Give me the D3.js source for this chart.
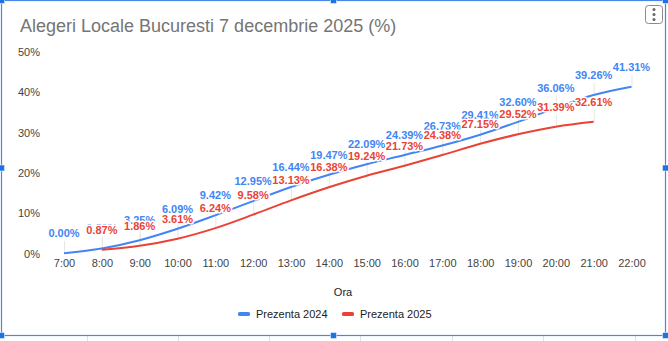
<!DOCTYPE html>
<html><head><meta charset="utf-8">
<script src="https://cdn.jsdelivr.net/npm/d3@7"></script>
<style>html,body{margin:0;padding:0;background:#fff;}svg{display:block;}</style>
</head><body>
<svg id="c" width="668" height="341"></svg>
<script>
const hours = ["7:00","8:00","9:00","10:00","11:00","12:00","13:00","14:00","15:00","16:00","17:00","18:00","19:00","20:00","21:00","22:00"];
const hours2024 = hours;
const values2024 = [0.00,1.20,3.25,6.09,9.42,12.95,16.44,19.47,22.09,24.39,26.73,29.41,32.60,36.06,39.26,41.31];
const hours2025 = ["8:00","9:00","10:00","11:00","12:00","13:00","14:00","15:00","16:00","17:00","18:00","19:00","20:00","21:00"];
const values2025 = [0.87,1.86,3.61,6.24,9.58,13.13,16.38,19.24,21.73,24.38,27.15,29.52,31.39,32.61];
const yTicks = [0,10,20,30,40,50];
const seriesNames = ["Prezenta 2024","Prezenta 2025"];
const colors = ["#4285f4","#ea4335"];
const title = "Alegeri Locale Bucuresti 7 decembrie 2025 (%)";
const xTitle = "Ora";

const svg = d3.select("#c");
const font = "Arial, 'Liberation Sans', sans-serif";

// sheet cell grid under the chart
const sheetCols = [87,178,269,360,452,543,635];
svg.selectAll(".cell").data(sheetCols).join("line")
  .attr("x1",d=>d+0.5).attr("x2",d=>d+0.5).attr("y1",336).attr("y2",341)
  .attr("stroke","#e2e2e2");

const x = d3.scalePoint().domain(hours).range([64, 631.5]);
const y = d3.scaleLinear().domain([0,50]).range([253.3, 51.7]);

// title
svg.append("text").attr("x",20).attr("y",32).text(title)
  .attr("font-family",font).attr("font-size",18).attr("fill","#757575");

// y axis
const yAxis = svg.append("g").attr("transform","translate(40,0)")
  .call(d3.axisLeft(y).tickValues(yTicks).tickFormat(d=>d+"%").tickSize(0).tickPadding(0));
yAxis.select(".domain").remove();
yAxis.selectAll("text").attr("font-family",font).attr("font-size",11).attr("fill","#444").attr("dy","0.35em");

// x axis
const xAxis = svg.append("g").attr("transform","translate(0,259)")
  .call(d3.axisBottom(x).tickSize(0).tickPadding(0));
xAxis.select(".domain").remove();
xAxis.selectAll("text").attr("font-family",font).attr("font-size",11).attr("fill","#444").attr("dy","0.71em");

svg.append("text").attr("x",343).attr("y",296).attr("text-anchor","middle").text(xTitle)
  .attr("font-family",font).attr("font-size",11).attr("fill","#222");

const s1 = hours2024.map((h,i)=>({h, v:values2024[i]}));
const s2 = hours2025.map((h,i)=>({h, v:values2025[i]}));
const series = [s1, s2];

// leader lines
series.forEach((s)=>{
  svg.append("g").selectAll("line").data(s).join("line")
    .attr("x1",d=>x(d.h)+0.5).attr("x2",d=>x(d.h)+0.5)
    .attr("y1",d=>y(d.v)-12).attr("y2",d=>y(d.v))
    .attr("stroke","#e6e6e6").attr("stroke-width",1);
});

const line = d3.line().x(d=>x(d.h)).y(d=>y(d.v)).curve(d3.curveMonotoneX);
series.forEach((s,i)=>{
  svg.append("path").datum(s).attr("d",line).attr("fill","none")
    .attr("stroke",colors[i]).attr("stroke-width",2);
});

// labels
series.forEach((s,i)=>{
  svg.append("g").selectAll("text").data(s).join("text")
    .attr("x",d=>x(d.h)).attr("y",d=>y(d.v)-16)
    .attr("text-anchor","middle")
    .text(d=>d.v.toFixed(2)+"%")
    .attr("font-family",font).attr("font-size",11).attr("font-weight","bold")
    .attr("fill",colors[i])
    .attr("stroke","#fff").attr("stroke-width",3).attr("paint-order","stroke")
    .attr("stroke-linejoin","round");
});

// legend
const legend = [{x:238, tx:256},{x:342, tx:360}];
legend.forEach((l,i)=>{
  svg.append("rect").attr("x",l.x).attr("y",312).attr("width",12).attr("height",4).attr("rx",1.5)
    .attr("fill",colors[i]);
  svg.append("text").attr("x",l.tx).attr("y",318).text(seriesNames[i])
    .attr("font-family",font).attr("font-size",11).attr("fill","#222");
});

// menu button
svg.append("rect").attr("x",645.5).attr("y",5.5).attr("width",17).attr("height",18).attr("rx",3)
  .attr("fill","#fff").attr("stroke","#8a8a8a").attr("stroke-width",1);
[9.5,14.5,19.5].forEach(cy=>svg.append("circle").attr("cx",654).attr("cy",cy).attr("r",1.5).attr("fill","#666"));

// selection frame
const frameColor = "#4a86e8";
svg.append("rect").attr("x",1.5).attr("y",0.5).attr("width",664).attr("height",335)
  .attr("fill","none").attr("stroke",frameColor).attr("stroke-width",1.2);
const handles = [[1.5,0.5],[333.5,0.5],[665.5,0.5],[1.5,168],[665.5,168],[1.5,335.5],[333.5,335.5],[665.5,335.5]];
svg.selectAll(".h").data(handles).join("rect")
  .attr("x",d=>d[0]-3).attr("y",d=>d[1]-3).attr("width",6).attr("height",6)
  .attr("fill","#1a73e8").attr("stroke","#fff").attr("stroke-width",0.5);
</script>
</body></html>
